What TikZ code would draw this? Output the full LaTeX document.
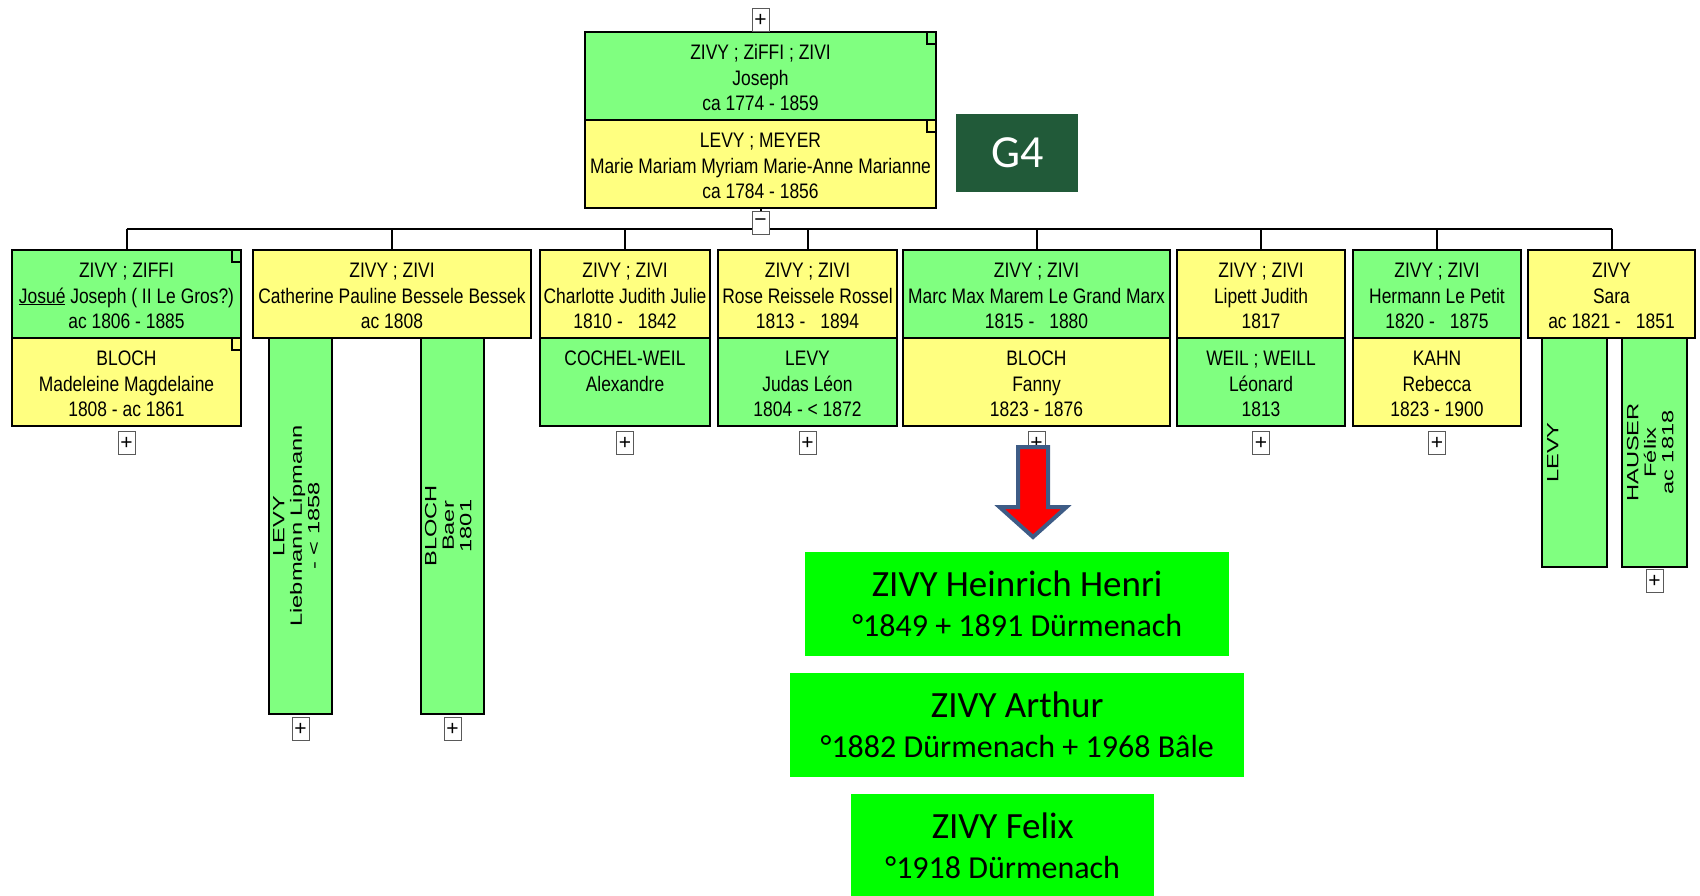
\documentclass[tikz,border=0pt]{standalone}
\usepackage{fontspec}
\setmainfont{Liberation Sans}
\newfontfamily\narrowfont[FakeStretch=0.83]{Liberation Sans}
\newfontfamily\calibrifont{Carlito}
\newfontfamily\tallfont[FakeStretch=1.45]{Liberation Sans}
\usetikzlibrary{positioning}

\definecolor{famgreen}{HTML}{80FF80}
\definecolor{famyellow}{HTML}{FFFF80}
\definecolor{notegreen}{HTML}{00FF00}
\definecolor{arrowrim}{HTML}{3E5C86}
\definecolor{gfour}{HTML}{215A39}

\newcommand{\wgap}{\hspace{15pt}}

\tikzset{
	half/.style={draw, line width=2.4pt, inner sep=0pt, outer sep=0pt, anchor=north west, align=center,
		font=\narrowfont\fontsize{21}{25.5}\selectfont, text height=78.5pt, text depth=9.5pt, minimum height=88pt},
	gh/.style={half, fill=famgreen},
	yh/.style={half, fill=famyellow},
	bar/.style={draw, line width=2.4pt, fill=famgreen, rotate=90, inner sep=0pt, outer sep=0pt, align=center,
		font=\tallfont\fontsize{16.3}{17.5}\selectfont, text height=50.5pt, text depth=13pt},
	expander/.style={draw=black!65, fill=white, line width=1pt, minimum width=17pt, minimum height=23pt,
		inner sep=0pt, font=\fontsize{21}{21}\selectfont},
	result/.style={fill=notegreen, align=center, inner sep=0pt, anchor=north west,
		font=\calibrifont\fontsize{37}{40}\selectfont},
	link/.style={line width=2pt},
	notch/.style={line width=1.6pt}
}

\begin{document}
\begin{tikzpicture}[x=1pt,y=-1pt]
	\useasboundingbox (0,0) rectangle (1700,895);

	\node[gh, minimum width=351pt] (jos) at (585,32) {ZIVY ; ZiFFI ; ZIVI\\Joseph\\ca 1774 - 1859};
	\node[yh, minimum width=351pt] (mar) at (585,120) {LEVY ; MEYER\\Marie Mariam Myriam Marie-Anne Marianne\\ca 1784 - 1856};
	\node[expander, above=0pt of jos] (josplus) {+};

	\node[fill=gfour, text=white, font=\calibrifont\fontsize{46}{46}\selectfont, minimum width=122pt, minimum height=78pt,
		anchor=north west, inner sep=0pt] (gen) at (956,114) {G4};

	\node[gh, minimum width=229pt] (josA) at (12,250) {ZIVY ; ZIFFI\\\underline{Josué} Joseph ( II Le Gros?)\\ac 1806 - 1885};
	\node[yh, minimum width=229pt] (josB) at (12,338) {BLOCH\\Madeleine Magdelaine\\1808 - ac 1861};

	\node[bar, minimum width=376pt, minimum height=63pt] (cathL) at (300.5,526) {LEVY\\Liebmann Lipmann\\- < 1858};
	\node[bar, minimum width=376pt, minimum height=63pt] (cathR) at (452.5,526) {BLOCH\\Baer\\1801};
	\node[yh, minimum width=278pt] (cathA) at (253,250) {ZIVY ; ZIVI\\Catherine Pauline Bessele Bessek\\ac 1808};

	\node[yh, minimum width=170pt] (charA) at (540,250) {ZIVY ; ZIVI\\Charlotte Judith Julie\\1810 -\wgap 1842};
	\node[gh, minimum width=170pt] (charB) at (540,338) {COCHEL-WEIL\\Alexandre\\\mbox{}};

	\node[yh, minimum width=179pt] (roseA) at (718,250) {ZIVY ; ZIVI\\Rose Reissele Rossel\\1813 -\wgap 1894};
	\node[gh, minimum width=179pt] (roseB) at (718,338) {LEVY\\Judas Léon\\1804 - < 1872};

	\node[gh, minimum width=267pt] (marcA) at (903,250) {ZIVY ; ZIVI\\Marc Max Marem Le Grand Marx\\1815 -\wgap 1880};
	\node[yh, minimum width=267pt] (marcB) at (903,338) {BLOCH\\Fanny\\1823 - 1876};

	\node[yh, minimum width=168pt] (lipA) at (1177,250) {ZIVY ; ZIVI\\Lipett Judith\\1817};
	\node[gh, minimum width=168pt] (lipB) at (1177,338) {WEIL ; WEILL\\Léonard\\1813};

	\node[gh, minimum width=168pt] (hermA) at (1353,250) {ZIVY ; ZIVI\\Hermann Le Petit\\1820 -\wgap 1875};
	\node[yh, minimum width=168pt] (hermB) at (1353,338) {KAHN\\Rebecca\\1823 - 1900};

	\node[bar, minimum width=229pt, minimum height=65pt, text height=15.5pt, text depth=48pt] (saraL) at (1574.5,452.5) {LEVY};
	\node[bar, minimum width=229pt, minimum height=65pt] (saraR) at (1654.5,452.5) {HAUSER\\Félix\\ac 1818};
	\node[yh, minimum width=167pt] (saraA) at (1528,250) {ZIVY\\Sara\\ac 1821 -\wgap 1851};

	\foreach \n in {jos,mar,josA,josB}
		\draw[notch] ([xshift=-9pt]\n.north east) |- ([yshift=-12pt]\n.north east);

	\coordinate (bus) at (760.5,228.5);
	\draw[link] (mar.south) -- (mar.south |- bus);
	\draw[link] (josA.north |- bus) -- (saraA.north |- bus);
	\foreach \c in {josA,cathA,charA,roseA,marcA,lipA,hermA,saraA}
		\draw[link] (\c.north |- bus) -- (\c.north);
	\node[expander] (minus) at (760.5,223) {−};

	\foreach \c in {josB,charB,roseB,marcB,lipB,hermB}
		\node[expander, below=5pt of \c] (\c plus) {+};
	\node[expander, below=3pt of cathL.west] (cathLplus) {+};
	\node[expander, below=3pt of cathR.west] (cathRplus) {+};
	\node[expander, below=2pt of saraR.west] (saraRplus) {+};

	\draw[line width=4pt, draw=arrowrim, fill=red] (1018,447) -- (1048,447) -- (1048,507) -- (1066.5,507)
		-- (1033,537) -- (999.5,507) -- (1018,507) -- cycle;

	\node[result, minimum width=424pt, minimum height=104pt] (henri) at (805,552)
		{ZIVY Heinrich Henri\\{\fontsize{32}{40}\selectfont °1849 + 1891 Dürmenach}};
	\node[result, minimum width=454pt, minimum height=104pt] (arthur) at (790,673)
		{ZIVY Arthur\\{\fontsize{32}{40}\selectfont °1882 Dürmenach + 1968 Bâle}};
	\node[result, minimum width=303pt, minimum height=104pt] (felix) at (851,794)
		{ZIVY Felix\\{\fontsize{32}{40}\selectfont °1918 Dürmenach}};
\end{tikzpicture}
\end{document}
